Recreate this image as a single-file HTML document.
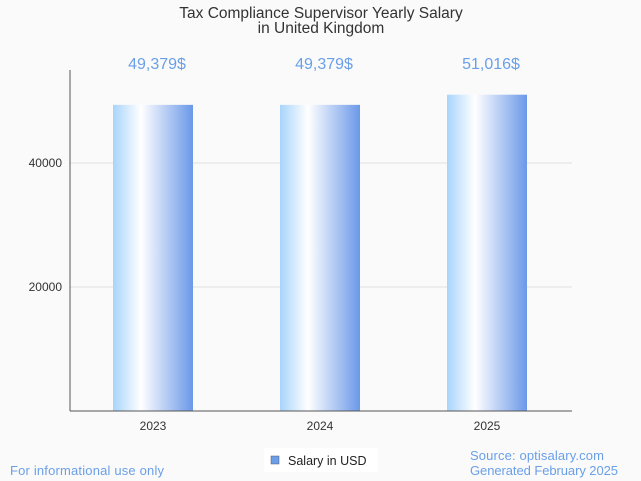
<!DOCTYPE html>
<html><head><meta charset="utf-8"><style>
body{margin:0;background:#fafafa;}
svg{display:block;font-family:"Liberation Sans",sans-serif;}
</style></head><body>
<svg id="chart" width="641" height="481">
<defs><linearGradient id="bg" x1="0" x2="1" y1="0" y2="0">
<stop offset="0" stop-color="#a8d4fb"/><stop offset="0.35" stop-color="#ffffff"/><stop offset="1" stop-color="#6a98e8"/>
</linearGradient></defs>
<rect width="641" height="481" fill="#fafafa"/>
<text x="321" y="18" text-anchor="middle" font-size="15.5" fill="#333">Tax Compliance Supervisor Yearly Salary</text>
<text x="321" y="33" text-anchor="middle" font-size="15.5" fill="#333">in United Kingdom</text>
<g id="grid"></g><g id="bars"></g>
<line x1="70" y1="70" x2="70" y2="411" stroke="#555"/>
<line x1="70" y1="411" x2="572" y2="411" stroke="#555"/>
<rect x="264" y="448" width="114" height="24" fill="#fff"/>
<rect x="271" y="456" width="8" height="8" fill="#6a9fe8" stroke="#557" stroke-width="0.5"/>
<text x="288" y="465" font-size="12.5" fill="#222">Salary in USD</text>
<text x="10" y="475" font-size="13" fill="#6a9fe8" textLength="154">For informational use only</text>
<text x="470" y="460" font-size="13" fill="#6a9fe8" textLength="134">Source: optisalary.com</text>
<text x="470" y="475" font-size="13" fill="#6a9fe8" textLength="148">Generated February 2025</text>
</svg>
<script>
const categories=["2023","2024","2025"];
const values=[49379,49379,51016];
const valueLabels=["49,379$","49,379$","51,016$"];
const ticks=[20000,40000];
const NS="http://www.w3.org/2000/svg";
const y=v=>411-v*0.0062;
const x=i=>153+i*167;
function mk(t,a,p){const e=document.createElementNS(NS,t);for(const k in a)e.setAttribute(k,a[k]);p.appendChild(e);return e;}
const g=document.getElementById('grid'),b=document.getElementById('bars');
ticks.forEach(t=>{
 const l=mk('line',{x1:70,x2:572,y1:y(t),y2:y(t),stroke:'#e0e0e0'},g);
 
 
 const tx=mk('text',{x:62,y:y(t)+4,'text-anchor':'end','font-size':12,fill:'#333'},g);
 tx.textContent=t;
 
 
});
categories.forEach((c,i)=>{
 const r=mk('rect',{x:x(i)-40,y:y(values[i]),width:80,height:411-y(values[i]),fill:'url(#bg)'},b);
 
 
 const v=mk('text',{x:x(i)+4,y:69,'text-anchor':'middle','font-size':16,fill:'#6a9fe8'},b);
 v.textContent=valueLabels[i];
 
 
 const t=mk('text',{x:x(i),y:430,'text-anchor':'middle','font-size':12,fill:'#333'},b);
 t.textContent=c;
 
 
});
</script>
</body></html>
